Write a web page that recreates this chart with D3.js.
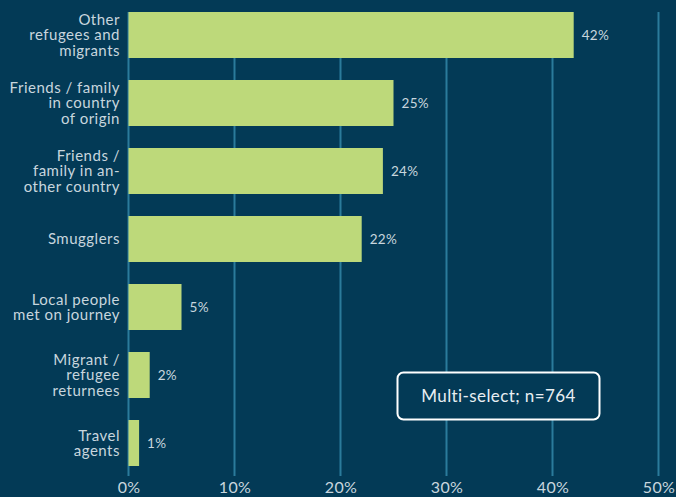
<!DOCTYPE html>
<html>
<head>
<meta charset="utf-8">
<script src="https://cdn.jsdelivr.net/npm/d3@7"></script>
<style>
  html, body { margin: 0; padding: 0; background: #033a56; }
  svg { display: block; }
</style>
</head>
<body>
<svg id="chart" width="676" height="497"></svg>
<script>
// Sources of information on the journey (share of respondents)
const categories = [
  ["Other", "refugees and", "migrants"],
  ["Friends / family", "in country", "of origin"],
  ["Friends /", "family in an-", "other country"],
  ["Smugglers"],
  ["Local people", "met on journey"],
  ["Migrant /", "refugee", "returnees"],
  ["Travel", "agents"]
];
const values = [42, 25, 24, 22, 5, 2, 1];
const xTicks = [0, 10, 20, 30, 40, 50];
const note = "Multi-select; n=764";

const W = 676, H = 497;
const svg = d3.select("#chart");
const font = "Lato, 'Open Sans', sans-serif";

svg.append("rect").attr("width", W).attr("height", H).attr("fill", "#033a56");

const x = d3.scaleLinear().domain([0, 50]).range([128.5, 658.5]);
const y = d3.scaleBand()
  .domain(d3.range(categories.length))
  .range([1, 477])
  .paddingInner(22 / 68)
  .paddingOuter(11 / 68);

// Vertical grid lines
svg.append("g")
  .selectAll("line")
  .data(xTicks)
  .join("line")
  .attr("x1", d => x(d)).attr("x2", d => x(d))
  .attr("y1", 12).attr("y2", 476)
  .attr("stroke", "#2b7b9b")
  .attr("stroke-width", 2);

// Bottom axis labels
const axis = d3.axisBottom(x).tickValues(xTicks).tickFormat(d => d + "%").tickSize(0).tickPadding(0);
const ax = svg.append("g").attr("transform", "translate(0,482)").call(axis);
ax.select(".domain").remove();
ax.selectAll("text")
  .attr("dy", "0.71em")
  .attr("fill", "#c8d6de")
  .style("font-family", font)
  .style("font-size", "16px")
  .style("letter-spacing", "0.3px");

// Bars
svg.append("g")
  .selectAll("rect")
  .data(values)
  .join("rect")
  .attr("x", x(0))
  .attr("y", (d, i) => y(i))
  .attr("width", d => x(d) - x(0))
  .attr("height", y.bandwidth())
  .attr("fill", "#bdd97a");

// Value labels
svg.append("g")
  .selectAll("text")
  .data(values)
  .join("text")
  .attr("x", d => x(d) + 8)
  .attr("y", (d, i) => y(i) + y.bandwidth() / 2)
  .attr("dy", "0.35em")
  .attr("fill", "#c8d6de")
  .style("font-family", font)
  .style("font-size", "13.5px")
  .style("letter-spacing", "0.3px")
  .text(d => d + "%");

// Category labels (multi-line, right aligned)
const lineH = 15.5;
const cat = svg.append("g")
  .selectAll("text")
  .data(categories)
  .join("text")
  .attr("text-anchor", "end")
  .attr("fill", "#c8d6de")
  .style("font-family", font)
  .style("font-size", "15px")
  .style("letter-spacing", "0.5px");
cat.each(function(lines, i) {
  const cy = y(i) + y.bandwidth() / 2;
  const top = cy - (lines.length - 1) * lineH / 2;
  d3.select(this).selectAll("tspan")
    .data(lines)
    .join("tspan")
    .attr("x", 120)
    .attr("y", (l, j) => top + j * lineH)
    .attr("dy", "0.35em")
    .text(l => l);
});

// Sample note box
const box = svg.append("g");
box.append("rect")
  .attr("x", 397.5).attr("y", 372.5)
  .attr("width", 202).attr("height", 47)
  .attr("rx", 6)
  .attr("fill", "#033a56")
  .attr("stroke", "#ffffff")
  .attr("stroke-width", 2);
box.append("text")
  .attr("x", 498.5).attr("y", 396)
  .attr("dy", "0.35em")
  .attr("text-anchor", "middle")
  .attr("fill", "#e8eef2")
  .style("font-family", font)
  .style("font-size", "17px")
  .style("letter-spacing", "0.4px")
  .text(note);
</script>
</body>
</html>
